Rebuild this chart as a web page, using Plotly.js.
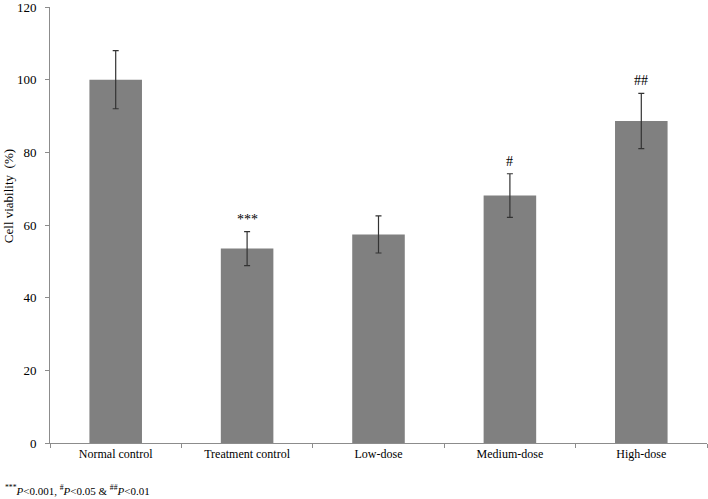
<!DOCTYPE html>
<html>
<head>
<meta charset="utf-8">
<script src="https://cdn.plot.ly/plotly-3.0.1.min.js"></script>
<style>html,body{margin:0;padding:0;background:#fff;}#chart{width:708px;height:499px;}</style>
</head>
<body>
<div id="chart"></div>
<script>
const categories = ["Normal control", "Treatment control", "Low-dose", "Medium-dose", "High-dose"];
const viability = [100, 53.5, 57.4, 68.1, 88.6];
const errors = [8, 4.7, 5.1, 6.0, 7.6];
const significance = ["", "***", "", "#", "##"];
const yTicks = [0, 20, 40, 60, 80, 100, 120];

const font = {family: "Liberation Serif, Times New Roman, serif", color: "#000"};

const trace = {
  type: "bar",
  x: categories,
  y: viability,
  width: 0.4,
  marker: {color: "#808080", line: {width: 0}},
  error_y: {type: "data", array: errors, visible: true, color: "#333333", thickness: 1.2, width: 3},
  hoverinfo: "skip"
};

const annotations = [];
categories.forEach((c, i) => {
  if (significance[i]) {
    annotations.push({
      x: c, y: viability[i] + errors[i], xref: "x", yref: "y",
      text: significance[i], showarrow: false, yanchor: "bottom", yshift: 3,
      font: Object.assign({}, font, {size: 14})
    });
  }
});
annotations.push({
  xref: "paper", yref: "paper", x: -0.064, y: 0.566, textangle: -90,
  text: "Cell viability  (%)", showarrow: false, xanchor: "center", yanchor: "middle",
  font: Object.assign({}, font, {size: 13})
});
annotations.push({
  xref: "paper", yref: "paper", x: -0.0715, y: -0.108, xanchor: "left", yanchor: "middle",
  text: "<sup>***</sup><i>P</i><0.001, <sup>#</sup><i>P</i><0.05 & <sup>##</sup><i>P</i><0.01",
  showarrow: false, font: Object.assign({}, font, {size: 11})
});

const layout = {
  width: 708, height: 499,
  margin: {l: 50, r: 1, t: 7, b: 56},
  paper_bgcolor: "#fff", plot_bgcolor: "#fff",
  font: font,
  showlegend: false,
  bargap: 0.6,
  xaxis: {
    type: "category",
    showline: true, linecolor: "#8c8c8c", linewidth: 1,
    ticks: "outside", tickson: "boundaries", ticklen: 4, tickcolor: "#8c8c8c",
    showgrid: false, zeroline: false,
    tickfont: Object.assign({}, font, {size: 12})
  },
  yaxis: {
    range: [0, 120], tickvals: yTicks, ticktext: yTicks.map(String),
    showline: true, linecolor: "#8c8c8c", linewidth: 1,
    ticks: "outside", ticklen: 4, tickcolor: "#8c8c8c",
    showgrid: false, zeroline: false,
    tickfont: Object.assign({}, font, {size: 13}),
    ticklabelstandoff: 6,
    ticklabeloverflow: "allow"
  },
  annotations: annotations
};

Plotly.newPlot("chart", [trace], layout, {staticPlot: true, displayModeBar: false});
</script>
</body>
</html>
